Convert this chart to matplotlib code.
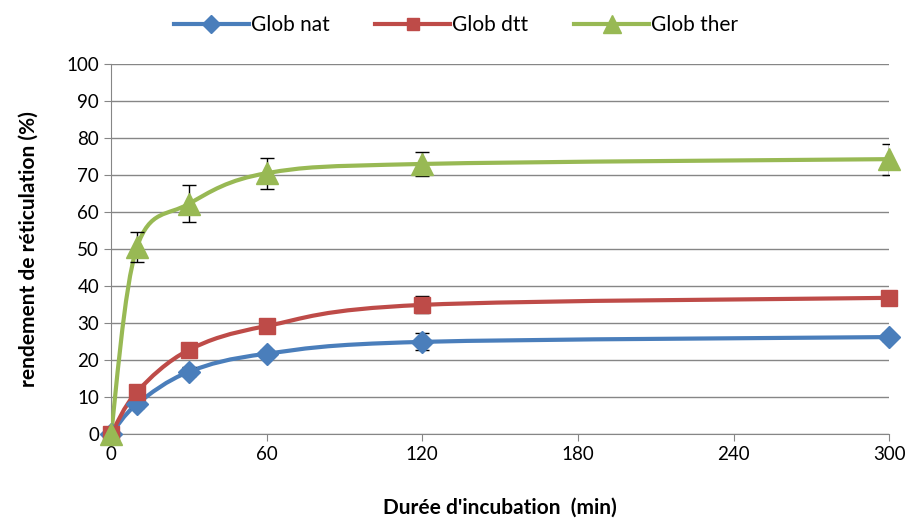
import matplotlib.pyplot as plt
from matplotlib.path import Path
from matplotlib.patches import PathPatch
from matplotlib.lines import Line2D
import numpy as np

plt.rcParams['font.family'] = ['Lato', 'DejaVu Sans']

temps = [0, 10, 30, 60, 120, 300]
glob_nat = [0, 8.1, 16.8, 21.7, 24.9, 26.2]
glob_dtt = [0, 11.4, 22.7, 29.2, 34.9, 36.8]
glob_ther = [0, 50.5, 62.2, 70.5, 73.0, 74.3]
err_nat = [0, 1.0, 1.2, 1.0, 2.3, 1.0]
err_dtt = [0, 1.0, 1.2, 1.0, 2.3, 1.2]
err_ther = [0, 4.0, 5.0, 4.2, 3.3, 4.2]

noms = ['Glob nat', 'Glob dtt', 'Glob ther']
couleurs = ['#4A7EBB', '#BE4B48', '#98B954']
marqueurs = ['D', 's', '^']
tailles = [11, 11, 16]
xticks = [0, 60, 120, 180, 240, 300]


def courbe_lissee(x, y):
    # bezier a la maniere d'Excel (lignes lissees)
    p = np.column_stack([x, y]).astype(float)
    verts = [p[0]]
    codes = [Path.MOVETO]
    n = len(p)
    for i in range(n - 1):
        p0 = p[i - 1] if i > 0 else p[i]
        p3 = p[i + 2] if i + 2 < n else p[i + 1]
        c1 = p[i] + (p[i + 1] - p0) / 6
        c2 = p[i + 1] - (p3 - p[i]) / 6
        verts += [c1, c2, p[i + 1]]
        codes += [Path.CURVE4] * 3
    return Path(verts, codes)


fig = plt.figure(figsize=(9.12, 5.21), dpi=100)
ax = fig.add_axes([0.1217, 0.167, 0.975 - 0.1217, 0.877 - 0.167])

series = [glob_nat, glob_dtt, glob_ther]
erreurs = [err_nat, err_dtt, err_ther]
handles = []
for s, e, c, m, t, nom in zip(series, erreurs, couleurs, marqueurs, tailles, noms):
    ax.add_patch(PathPatch(courbe_lissee(temps, s), facecolor='none', edgecolor=c,
                           lw=3, zorder=3, capstyle='round'))
    ax.errorbar(temps, s, yerr=e, fmt='none', ecolor='black', elinewidth=1,
                capsize=5, capthick=1, zorder=4)
    ax.plot(temps, s, linestyle='none', marker=m, markersize=t, color=c, zorder=5,
            clip_on=False)
    handles.append(Line2D([0], [0], color=c, lw=3, marker=m, markersize=t * 0.8))

ax.set_xlim(0, 300)
ax.set_ylim(0, 100)
ax.set_xticks(xticks)
ax.set_yticks(range(0, 101, 10))
ax.tick_params(axis='both', labelsize=13.5, colors='#868686', labelcolor='black',
               direction='out', length=5)
ax.grid(axis='y', color='#868686', linewidth=1)
ax.set_axisbelow(True)
for cote in ['top', 'right']:
    ax.spines[cote].set_visible(False)
for cote in ['left', 'bottom']:
    ax.spines[cote].set_color('#868686')

ax.set_xlabel("Durée d'incubation  (min)", fontsize=15, fontweight='bold', labelpad=25)
ax.set_ylabel('rendement de réticulation (%)', fontsize=15, fontweight='bold', labelpad=20)

fig.legend(handles, noms, loc='center', bbox_to_anchor=(0.5, 0.952), ncol=3,
           frameon=False, fontsize=15, handlelength=3.6, columnspacing=2.2,
           handletextpad=0.1)

fig.savefig('out.png', dpi=100)
